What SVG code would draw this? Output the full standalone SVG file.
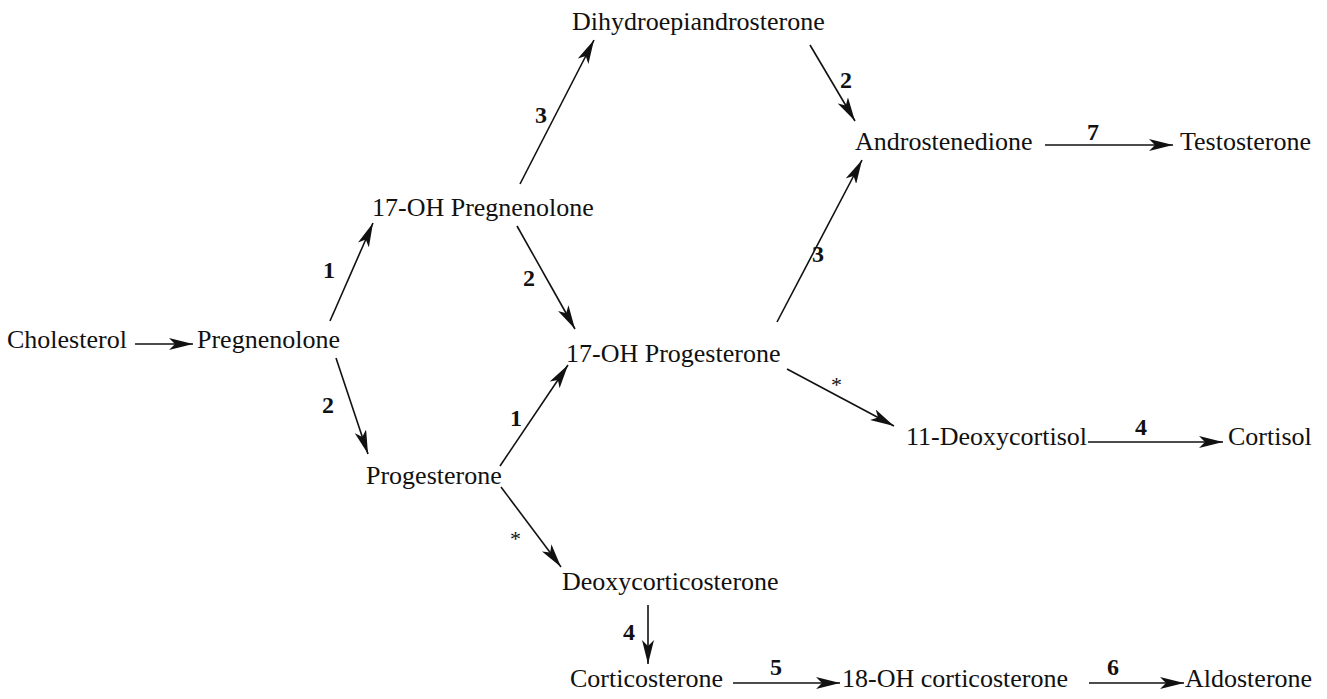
<svg xmlns="http://www.w3.org/2000/svg" width="1327" height="699" viewBox="0 0 1327 699">
<defs>
<style>
.t{font-family:"Liberation Serif","Times New Roman",serif;font-size:26px;fill:#111}
.n{font-family:"Liberation Serif","Times New Roman",serif;font-size:24px;font-weight:bold;fill:#111}
.s{font-family:"Liberation Serif","Times New Roman",serif;font-size:22px;fill:#111}
.c line{stroke:#111;stroke-width:1.6;marker-end:url(#ah)}
</style>
<marker id="ah" viewBox="0 0 24 12" refX="24" refY="6" markerWidth="24" markerHeight="12" markerUnits="userSpaceOnUse" orient="auto">
<path d="M0,0 L24,6 L0,12 L6,6 Z" fill="#111"/>
</marker>
</defs>
<rect width="1327" height="699" fill="#fff"/>
<g id="connectors" class="c">
<line x1="135" y1="344" x2="193" y2="344"/>
<line x1="330" y1="321" x2="373" y2="223"/>
<line x1="336" y1="358" x2="368" y2="454"/>
<line x1="520" y1="184" x2="594" y2="40"/>
<line x1="517" y1="226" x2="575" y2="329"/>
<line x1="500" y1="466" x2="568" y2="365"/>
<line x1="501" y1="487" x2="561" y2="567"/>
<line x1="777" y1="322" x2="862" y2="160"/>
<line x1="810" y1="45" x2="855" y2="121"/>
<line x1="787" y1="369" x2="894" y2="426"/>
<line x1="1045" y1="145" x2="1173" y2="145"/>
<line x1="1088" y1="442" x2="1223" y2="442"/>
<line x1="648" y1="605" x2="648" y2="664"/>
<line x1="733" y1="683" x2="840" y2="683"/>
<line x1="1089" y1="683" x2="1184" y2="683"/>
</g>
<g id="labels">
<text class="n" x="323" y="278">1</text>
<text class="n" x="322" y="413">2</text>
<text class="n" x="535" y="123">3</text>
<text class="n" x="523" y="286">2</text>
<text class="n" x="510" y="426">1</text>
<text class="s" x="510" y="546">*</text>
<text class="n" x="812" y="262">3</text>
<text class="n" x="840" y="88">2</text>
<text class="s" x="831" y="392">*</text>
<text class="n" x="1087" y="140">7</text>
<text class="n" x="1135" y="435">4</text>
<text class="n" x="623" y="640">4</text>
<text class="n" x="770" y="675">5</text>
<text class="n" x="1107" y="675">6</text>
</g>
<g id="cholesterol"><text class="t" x="7" y="348">Cholesterol</text></g>
<g id="pregnenolone"><text class="t" x="197" y="348">Pregnenolone</text></g>
<g id="oh17-pregnenolone"><text class="t" x="372" y="216">17-OH Pregnenolone</text></g>
<g id="dhea"><text class="t" x="572" y="30">Dihydroepiandrosterone</text></g>
<g id="androstenedione"><text class="t" x="855" y="150">Androstenedione</text></g>
<g id="testosterone"><text class="t" x="1180" y="150">Testosterone</text></g>
<g id="oh17-progesterone"><text class="t" x="566" y="362">17-OH Progesterone</text></g>
<g id="deoxycortisol"><text class="t" x="906" y="445">11-Deoxycortisol</text></g>
<g id="cortisol"><text class="t" x="1228" y="445">Cortisol</text></g>
<g id="progesterone"><text class="t" x="366" y="484">Progesterone</text></g>
<g id="deoxycorticosterone"><text class="t" x="562" y="590">Deoxycorticosterone</text></g>
<g id="corticosterone"><text class="t" x="570" y="687">Corticosterone</text></g>
<g id="oh18-corticosterone"><text class="t" x="842" y="687">18-OH corticosterone</text></g>
<g id="aldosterone"><text class="t" x="1185" y="687">Aldosterone</text></g>
</svg>
